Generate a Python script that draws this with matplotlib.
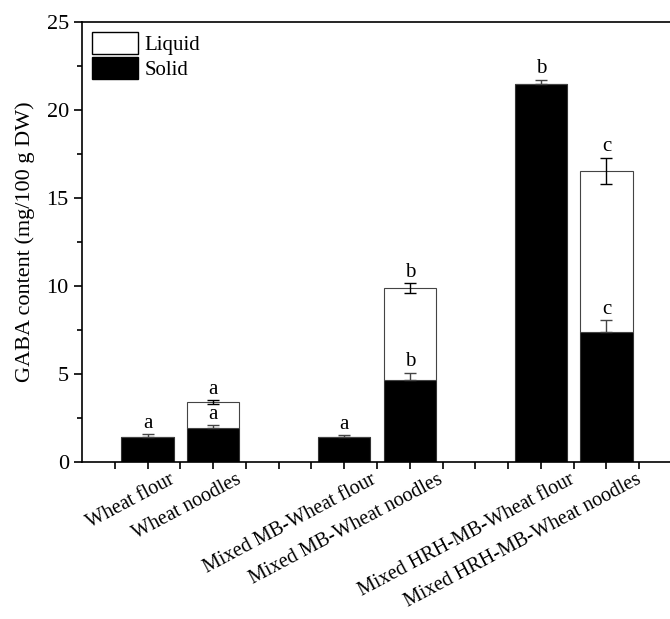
import numpy as np
import matplotlib.pyplot as plt
from matplotlib.patches import Patch

plt.rcParams['font.family'] = ['Liberation Serif', 'DejaVu Serif']

# datos
muestras = ["Wheat flour", "Wheat noodles", "Mixed MB-Wheat flour",
            "Mixed MB-Wheat noodles", "Mixed HRH-MB-Wheat flour",
            "Mixed HRH-MB-Wheat noodles"]
posiciones = [1, 2, 4, 5, 7, 8]
solido = [1.42, 1.93, 1.42, 4.66, 21.48, 7.39]
solido_err = [0.15, 0.15, 0.1, 0.42, 0.25, 0.68]
liquido = [0, 1.48, 0, 5.23, 0, 9.14]
liquido_err = [0, 0.1, 0, 0.27, 0, 0.75]
letras_solido = ["a", "a", "a", "b", "b", "c"]
letras_total = [None, "a", None, "b", None, "c"]

fig = plt.figure(figsize=(6.7, 6.19), dpi=100)
ax = fig.add_axes([0.1224, 0.2536, 0.8806, 0.7109])

x = np.array(posiciones, dtype=float)
sol = np.array(solido)
liq = np.array(liquido)
total = sol + liq

ancho = 0.8
ax.bar(x, sol, width=ancho, color="black", edgecolor="#333333", linewidth=0.8, zorder=2)
ax.bar(x, liq, width=ancho, bottom=sol, color="white", edgecolor="#444444",
       linewidth=0.8, zorder=2)

# en las barras negras solo se ve la mitad superior del error
err_sol = np.array(solido_err)
ax.errorbar(x, sol, yerr=[np.zeros_like(err_sol), err_sol], fmt="none",
            ecolor="#444444", elinewidth=1, capsize=4, capthick=1, zorder=3)
tiene_liq = liq > 0
ax.errorbar(x[tiene_liq], total[tiene_liq], yerr=np.array(liquido_err)[tiene_liq],
            fmt="none", ecolor="black", elinewidth=1, capsize=4, capthick=1, zorder=3)

# letras de significancia
for xi, s, e, l in zip(x, sol, solido_err, letras_solido):
    ax.annotate(l, (xi, s + e), xytext=(0, 1), textcoords="offset points",
                ha="center", va="bottom", fontsize=15)
for xi, t, e, l in zip(x, total, liquido_err, letras_total):
    if l:
        ax.annotate(l, (xi, t + e), xytext=(0, 1), textcoords="offset points",
                    ha="center", va="bottom", fontsize=15)

ax.set_xlim(0, 9)
ax.set_ylim(0, 25)
ax.set_yticks([0, 5, 10, 15, 20, 25])
ax.set_yticks(np.arange(0, 25, 2.5), minor=True)
ax.set_xticks(posiciones)
ax.set_xticks(np.arange(0.5, 9, 0.5), minor=True)
ax.set_xticklabels([])

# etiquetas giradas, desplazadas a la derecha como en el original
for p, nombre in zip(posiciones, muestras):
    dx = (15 + 0.55 * len(nombre)) * 0.72
    ax.annotate(nombre, (p, 0), xycoords=ax.get_xaxis_transform(),
                xytext=(dx, -6), textcoords="offset points", rotation=28,
                ha="right", va="top", rotation_mode="anchor", fontsize=14.5)

ax.tick_params(axis="y", which="major", direction="out", length=6, width=1.2,
               labelsize=16)
ax.tick_params(axis="y", which="minor", direction="out", length=3.5, width=1.2)
ax.tick_params(axis="x", which="both", direction="out", length=5, width=1.2, pad=2)
ax.spines["right"].set_visible(False)
for s in ["left", "bottom", "top"]:
    ax.spines[s].set_linewidth(1.2)

ax.set_ylabel("GABA content (mg/100 g DW)", fontsize=16, labelpad=8)

handles = [Patch(facecolor="white", edgecolor="black", label="Liquid"),
           Patch(facecolor="black", edgecolor="black", label="Solid")]
ax.legend(handles=handles, loc="upper left", frameon=False, fontsize=15,
          handlelength=2.2, handleheight=1.2, handletextpad=0.3, labelspacing=0.1,
          borderaxespad=0.1)

fig.savefig("out.png", dpi=100)
